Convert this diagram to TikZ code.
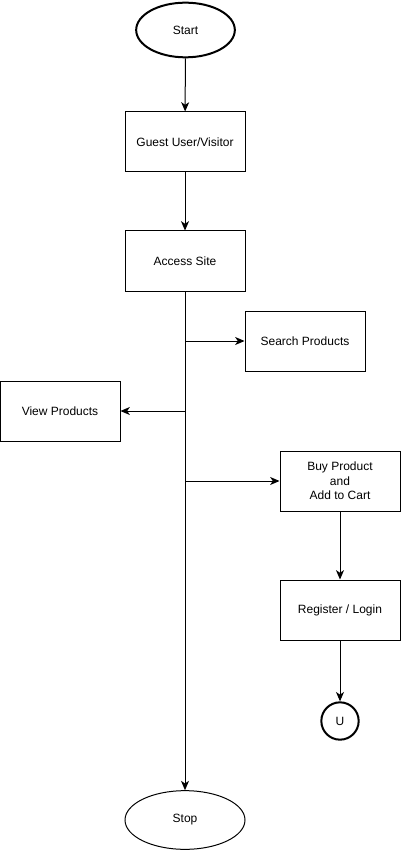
\documentclass[tikz,border=0pt]{standalone}
\usepackage{fontspec}
\setmainfont{Liberation Sans}
\usetikzlibrary{shapes.geometric,arrows.meta}
\begin{document}
\begin{tikzpicture}[x=0.75pt,y=-0.75pt,
  font=\fontsize{9}{11}\selectfont,
  box/.style={draw,line width=0.75pt,minimum width=90pt,minimum height=45pt,inner sep=0pt,align=center},
  term/.style={draw,ellipse,inner sep=0pt},
  arr/.style={line width=0.75pt,-{Stealth[length=7pt,width=6pt,inset=2pt]}},
  ln/.style={line width=0.75pt}]
\useasboundingbox (0,0) rectangle (401,852);
\node[term,line width=1.5pt,minimum width=74pt,minimum height=41pt] (start) at (185.5,30) {Start};
\node[box] (guest) at (185,142) {Guest User/Visitor};
\node[box] (access) at (185,261) {Access Site};
\node[box] (search) at (305,341) {Search Products};
\node[box] (view) at (60,411) {View Products};
\node[box] (buy) at (340,481) {Buy Product\\and\\Add to Cart};
\node[box] (reg) at (340,610) {Register / Login};
\node[draw,circle,line width=1.5pt,minimum size=28pt,inner sep=0pt] (u) at (340,721) {U};
\node[term,line width=0.75pt,minimum width=90pt,minimum height=44pt] (stop) at (185,820) {Stop};
\coordinate (j1) at (185,341);
\coordinate (j2) at (185,411);
\coordinate (j3) at (185,481);
\draw[arr] (start) -- (guest);
\draw[arr] (guest) -- (access);
\draw[arr] (access) -- (stop);
\draw[arr] (j1) -- (search);
\draw[arr] (j2) -- (view);
\draw[arr] (j3) -- (buy);
\draw[arr] (buy) -- (reg);
\draw[arr] (reg) -- (u);
\end{tikzpicture}
\end{document}
